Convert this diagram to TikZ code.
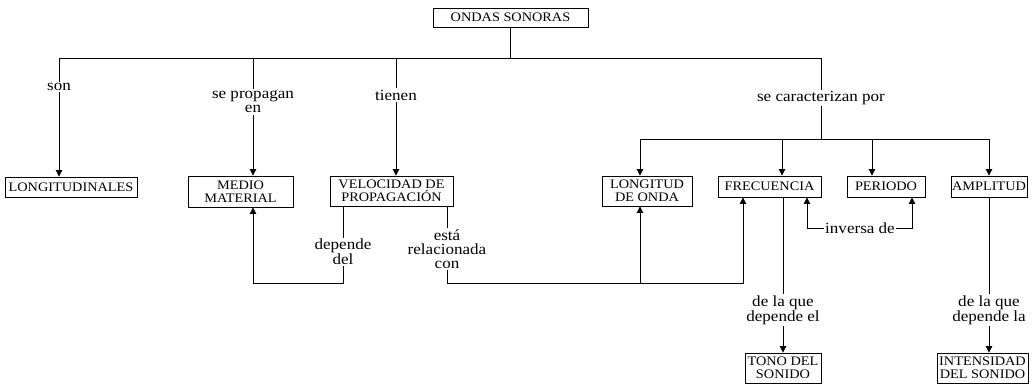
\documentclass[tikz,border=0pt]{standalone}
\usepackage{fontspec}
\setmainfont{Liberation Serif}[FakeStretch=1.1]
\usetikzlibrary{arrows.meta}
\begin{document}
\begin{tikzpicture}[x=1pt,y=-1pt,
  every node/.style={font=\fontsize{13}{13}\selectfont},
  box/.style={draw, line width=0.9pt, inner sep=0pt, align=center},
  lbl/.style={fill=white, inner sep=1.5pt, align=center, font=\fontsize{15.5}{14}\selectfont},
  link/.style={line width=0.9pt},
  arr/.style={link, -{Triangle[length=6.5pt,width=6.5pt]}},
  darr/.style={link, {Triangle[length=6.5pt,width=6.5pt]}-{Triangle[length=6.5pt,width=6.5pt]}}]
\useasboundingbox (0,0) rectangle (1034,384);

% concept boxes
\node[box, minimum width=155pt, minimum height=19pt] (ondas) at (510.5,17.5) {ONDAS SONORAS};
\node[box, minimum width=132pt, minimum height=20pt] (longi) at (71,187) {LONGITUDINALES};
\node[box, minimum width=105pt, minimum height=31pt] (medio) at (240.5,191.5) {MEDIO\\MATERIAL};
\node[box, minimum width=123pt, minimum height=30pt] (veloc) at (391.5,191) {VELOCIDAD DE\\PROPAGACIÓN};
\node[box, minimum width=90pt, minimum height=30pt] (lond) at (647,191) {LONGITUD\\DE ONDA};
\node[box, minimum width=103pt, minimum height=21pt] (frec) at (769.5,186.5) {FRECUENCIA};
\node[box, minimum width=78pt, minimum height=21pt] (peri) at (886,186.5) {PERIODO};
\node[box, minimum width=76pt, minimum height=21pt] (ampl) at (989,186.5) {AMPLITUD};
\node[box, minimum width=76pt, minimum height=30pt] (tono) at (783,368) {TONO DEL\\SONIDO};
\node[box, minimum width=91pt, minimum height=30pt] (inten) at (982.5,368) {INTENSIDAD\\DEL SONIDO};

% junction points
\coordinate (bL) at (59,58);
\coordinate (bMed) at (253,58);
\coordinate (bVel) at (396,58);
\coordinate (bR) at (821,58);
\coordinate (c0) at (640,139);
\coordinate (c1) at (821,139);
\coordinate (c2) at (782,139);
\coordinate (c3) at (872,139);
\coordinate (c4) at (989,139);
\coordinate (dA) at (343,283);
\coordinate (eA) at (447,283);
\coordinate (fUp) at (743,283);
\coordinate (iL) at (807,228);
\coordinate (iR) at (912,228);

% upper tree
\draw[link] (ondas.south) -- (ondas.south |- bL);
\draw[link] (bL) -- (bR) -- (c1);
\draw[arr] (bL) -- (bL |- longi.north);
\draw[arr] (bMed) -- (bMed |- medio.north);
\draw[arr] (bVel) -- (bVel |- veloc.north);
\draw[link] (c0) -- (c4);
\draw[arr] (c0) -- (c0 |- lond.north);
\draw[arr] (c2) -- (c2 |- frec.north);
\draw[arr] (c3) -- (c3 |- peri.north);
\draw[arr] (c4) -- (c4 |- ampl.north);

% cross links
\draw[arr] (dA |- veloc.south) -- (dA) -- (dA -| bMed) -- (bMed |- medio.south);
\draw[arr] (eA |- veloc.south) -- (eA) -- (fUp) -- (fUp |- frec.south);
\draw[arr] (c0 |- eA) -- (c0 |- lond.south);
\draw[darr] (iL |- frec.south) -- (iL) -- (iR) -- (iR |- peri.south);
\draw[arr] (frec.south -| tono.north) -- (tono.north);
\draw[arr] (ampl.south) -- (ampl.south |- inten.north);

% link labels
\node[lbl] (lSon) at (59,87) {son};
\node[lbl] (lProp) at (253,102) {se propagan\\en};
\node[lbl] (lTien) at (396,95) {tienen};
\node[lbl] (lCar) at (821,98) {se caracterizan por};
\node[lbl] (lDep) at (343,252) {depende\\del};
\node[lbl] (lRel) at (447,249) {está\\relacionada\\con};
\node[lbl] (lInv) at (860,228) {inversa de};
\node[lbl] (lTono) at (783,310) {de la que\\depende el};
\node[lbl] (lInt) at (989,310) {de la que\\depende la};
\end{tikzpicture}
\end{document}
